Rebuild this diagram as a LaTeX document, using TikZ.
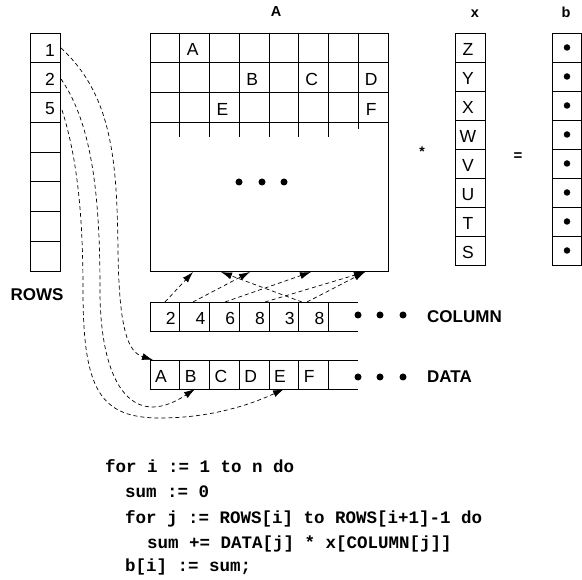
\documentclass[tikz,border=0pt]{standalone}
\usepackage{fontspec}
\setmainfont{Liberation Sans}
\newfontfamily\codefont{Liberation Mono}
\usetikzlibrary{arrows.meta}
\begin{document}
\begin{tikzpicture}[x=1pt,y=-1pt,
  gridline/.style={line width=0.9pt},
  celltxt/.style={font=\fontsize{17.5}{20}\selectfont, inner sep=0pt},
  lbl/.style={font=\bfseries\fontsize{17}{20}\selectfont, inner sep=0pt},
  toplbl/.style={font=\bfseries\fontsize{14.5}{16}\selectfont, inner sep=0pt, anchor=base},
  codeline/.style={font=\codefont\bfseries\fontsize{17.5}{20}\selectfont, inner sep=0pt, anchor=base west},
  ptr/.style={dash pattern=on 4pt off 3pt, line width=0.7pt, -{Latex[length=11pt,width=7pt]}},
  bigdot/.style={circle, fill, inner sep=0pt, minimum size=7pt},
  smalldot/.style={circle, fill, inner sep=0pt, minimum size=6.5pt},
]
\useasboundingbox (0,0) rectangle (582,580);

% ---------- ROWS ----------
\draw[gridline] (30,33) rectangle (60,271);
\foreach \i in {1,...,7} \draw[gridline] (30,33+29.75*\i) -- (60,33+29.75*\i);
\node[celltxt, anchor=east] (rn1) at (55,50) {1};
\node[celltxt, anchor=east] (rn2) at (55,79.5) {2};
\node[celltxt, anchor=east] (rn3) at (55,109) {5};
\node[lbl] (rowslbl) at (37,295) {ROWS};

% ---------- Matrix A ----------
\node[toplbl] (albl) at (276,17) {A};
\draw[gridline] (150,33) rectangle (388,271);
\foreach \i in {1,2,3} \draw[gridline] (150,33+29.75*\i) -- (388,33+29.75*\i);
\foreach \i in {1,...,6} \draw[gridline] (150+29.75*\i,33) -- (150+29.75*\i,137);
\draw[gridline] (150+29.75*7,33) -- (150+29.75*7,129);
\foreach \c/\r/\t in {2/1/A,4/2/B,6/2/C,8/2/D,3/3/E,8/3/F}
  \node[celltxt] (m\t) at (150+29.75*\c-14.9-2,33+29.75*\r-14.9+2) {\t};
\node[bigdot] (md1) at (239,182) {};
\node[bigdot] (md2) at (262,182) {};
\node[bigdot] (md3) at (284,182) {};

% ---------- operators ----------
\node[font=\bfseries\fontsize{14}{15}\selectfont, inner sep=0pt] (star) at (422,152) {*};
\node[font=\bfseries\fontsize{15}{16}\selectfont, inner sep=0pt] (eq) at (518,157) {=};

% ---------- x ----------
\node[toplbl] (xlbl) at (475,18) {x};
\draw[gridline] (455,33) rectangle (485,265);
\foreach \i in {1,...,7} \draw[gridline] (455,33+29*\i) -- (485,33+29*\i);
\foreach \t [count=\i] in {Z,Y,X,W,V,U,T,S}
  \node[celltxt] (x\t) at (468,33+29*\i-14.5+2) {\t};

% ---------- b ----------
\node[toplbl] (blbl) at (566,18) {b};
\draw[gridline] (552,33) rectangle (581.5,265);
\foreach \i in {1,...,7} \draw[gridline] (552,33+29*\i) -- (581.5,33+29*\i);
\foreach \i in {1,...,8}
  \node[smalldot] (b\i) at (567,33+29*\i-14.5) {};

% ---------- COLUMN ----------
\draw[gridline] (150,302) -- (358.25,302);
\draw[gridline] (150,331) -- (358.25,331);
\foreach \k in {0,...,6} \draw[gridline] (150+29.75*\k,302) -- (150+29.75*\k,331);
\foreach \t [count=\k] in {2,4,6,8,3,8}
  \node[celltxt, anchor=east] (cn\k) at (150+29.75*\k-4,318) {\t};
\node[bigdot] (cd1) at (358,315) {};
\node[bigdot] (cd2) at (380,315) {};
\node[bigdot] (cd3) at (403,315) {};
\node[lbl, anchor=west] (collbl) at (427,317) {COLUMN};

% ---------- DATA ----------
\draw[gridline] (150,360) -- (358.25,360);
\draw[gridline] (150,389) -- (358.25,389);
\foreach \k in {0,...,6} \draw[gridline] (150+29.75*\k,360) -- (150+29.75*\k,389);
\foreach \t [count=\k] in {A,B,C,D,E,F}
  \node[celltxt, anchor=west] (dn\k) at (150+29.75*\k-29.75+5,376) {\t};
\node[bigdot] (dd1) at (358,377) {};
\node[bigdot] (dd2) at (380,377) {};
\node[bigdot] (dd3) at (403,377) {};
\node[lbl, anchor=west] (datalbl) at (427,377) {DATA};

% ---------- pointer coordinates ----------
\coordinate (rs1) at (61,48);
\coordinate (rs2) at (61,79);
\coordinate (rs3) at (62,110);
\coordinate (re1) at (153,360);
\coordinate (re2) at (195,389);
\coordinate (re3) at (284,389);

\coordinate (cs1) at (165,302);
\coordinate (cs2) at (193,302);
\coordinate (cs3) at (225,302);
\coordinate (cs4) at (265,302);
\coordinate (cs5) at (302,302);
\coordinate (cs6) at (307,302);
\coordinate (ce2) at (193,272);
\coordinate (ce3) at (221,272);
\coordinate (ce4) at (250,272);
\coordinate (ce6) at (311,272);
\coordinate (ce8) at (365,272);

% ---------- ROWS -> DATA ----------
\draw[ptr] (rs1) .. controls (112,95) and (117,160) .. (118,250)
                 .. controls (119,330) and (128,352) .. (re1);
\draw[ptr] (rs2) .. controls (93,125) and (100,200) .. (100,290)
                 .. controls (100,380) and (130,432) .. (re2);
\draw[ptr] (rs3) .. controls (78,160) and (83,220) .. (83,290)
                 .. controls (83,390) and (100,418) .. (160,418)
                 .. controls (210,418) and (250,405) .. (re3);

% ---------- COLUMN -> A ----------
\draw[ptr] (cs1) -- (ce2);
\draw[ptr] (cs2) -- (ce4);
\draw[ptr] (cs3) -- (ce6);
\draw[ptr] (cs4) -- (ce8);
\draw[ptr] (cs5) -- (ce3);
\draw[ptr] (cs6) -- (ce8);

% ---------- code ----------
\node[codeline] (l1) at (105,473) {for i := 1 to n do};
\node[codeline] (l2) at (125,498) {sum := 0};
\node[codeline] (l3) at (125,523) {for j := ROWS[i] to ROWS[i+1]-1 do};
\node[codeline] (l4) at (147,548) {sum += DATA[j] * x[COLUMN[j]]};
\node[codeline] (l5) at (125,572) {b[i] := sum;};
\end{tikzpicture}
\end{document}
